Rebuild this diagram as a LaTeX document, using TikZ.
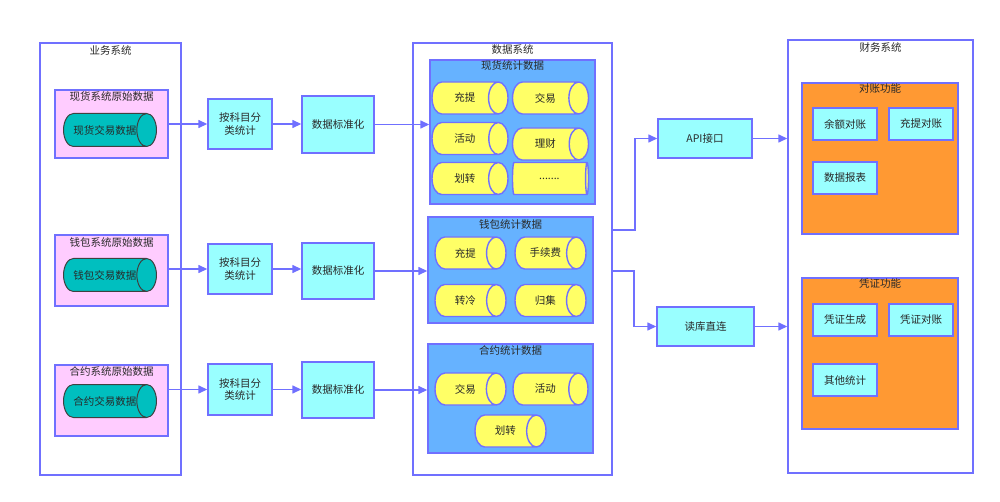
\documentclass[tikz,border=0pt]{standalone}
\usepackage{fontspec}
\setmainfont{Noto Sans CJK SC}
\usetikzlibrary{shapes.geometric,arrows.meta}
\definecolor{lineblue}{RGB}{112,112,255}
\definecolor{pinkfill}{RGB}{255,204,255}
\definecolor{cyanfill}{RGB}{153,255,255}
\definecolor{tealfill}{RGB}{0,191,191}
\definecolor{yellowfill}{RGB}{255,255,102}
\definecolor{groupfill}{RGB}{102,178,255}
\definecolor{orangefill}{RGB}{255,153,51}
\definecolor{txt}{RGB}{40,40,40}
\tikzset{
  sysbox/.style={draw=lineblue,line width=1.4pt,minimum width=#1},
  pinkbox/.style={draw=lineblue,line width=1.4pt,fill=pinkfill,minimum width=113pt},
  cyanbox/.style={draw=lineblue,line width=1.4pt,fill=cyanfill,align=center,text=txt},
  groupbox/.style={draw=lineblue,line width=1.4pt,fill=groupfill,minimum width=165pt},
  funcbox/.style={draw=lineblue,line width=1.4pt,fill=orangefill,minimum width=156pt,minimum height=151pt},
  rawdb/.style={cylinder,anchor=shape center,draw=black!75,line width=1pt,fill=tealfill,aspect=2,
    minimum height=86pt,minimum width=33pt,inner sep=0pt,text=txt},
  statdb/.style={cylinder,anchor=shape center,draw=lineblue,line width=1.4pt,fill=yellowfill,aspect=2,
    minimum height=#1,minimum width=32pt,inner sep=0pt,text=txt},
  statdb/.default=76pt,
  title/.style={text=txt,inner sep=0pt},
  link/.style={draw=lineblue,line width=1.4pt,-{Triangle[length=9pt,width=8pt]}}
}
\begin{document}
\begin{tikzpicture}[x=1pt,y=-1pt,font=\fontsize{10.5}{12.5}\selectfont]
    \useasboundingbox (0,0) rectangle (1000,502);
    \node[sysbox=141pt,minimum height=432pt] (ywxt) at (110.5,259) {};
    \node[sysbox=199pt,minimum height=432pt] (sjxt) at (512.5,259) {};
    \node[sysbox=185pt,minimum height=433pt] (cwxt) at (880.5,256.5) {};
    \node[title] (ywxt-t) at (110.5,50) {业务系统};
    \node[title] (sjxt-t) at (512.5,50) {数据系统};
    \node[title] (cwxt-t) at (880.5,47) {财务系统};

    \node[pinkbox,minimum height=68pt] (xh) at (111.5,124) {};
    \node[pinkbox,minimum height=71pt] (qb) at (111.5,270.5) {};
    \node[pinkbox,minimum height=71pt] (hy) at (111.5,400.5) {};
    \node[title] (xh-t) at (111.5,97) {现货系统原始数据};
    \node[title] (qb-t) at (111.5,242) {钱包系统原始数据};
    \node[title] (hy-t) at (111.5,372) {合约系统原始数据};
    \node[rawdb] (xhdb) at (110,130) {现货交易数据};
    \node[rawdb] (qbdb) at (110,275) {钱包交易数据};
    \node[rawdb] (hydb) at (110,401) {合约交易数据};

    \node[cyanbox,minimum width=64pt,minimum height=50pt] (fl1) at (240,124) {按科目分\\类统计};
    \node[cyanbox,minimum width=64pt,minimum height=50pt] (fl2) at (240,269) {按科目分\\类统计};
    \node[cyanbox,minimum width=64pt,minimum height=51pt] (fl3) at (240,389.5) {按科目分\\类统计};
    \node[cyanbox,minimum width=72pt,minimum height=57pt] (bz1) at (338,124.5) {数据标准化};
    \node[cyanbox,minimum width=72pt,minimum height=56pt] (bz2) at (338,271) {数据标准化};
    \node[cyanbox,minimum width=72pt,minimum height=56pt] (bz3) at (338,390) {数据标准化};

    \node[groupbox,minimum height=144pt] (g1) at (512.5,132) {};
    \node[groupbox,minimum height=106pt] (g2) at (510.5,270) {};
    \node[groupbox,minimum height=109pt] (g3) at (510.5,398.5) {};
    \node[title] (g1-t) at (512.5,66) {现货统计数据};
    \node[title] (g2-t) at (510.5,225) {钱包统计数据};
    \node[title] (g3-t) at (510.5,351) {合约统计数据};
    \node[statdb] (g1a) at (470,98) {充提};
    \node[statdb] (g1b) at (550.5,98) {交易};
    \node[statdb] (g1c) at (470,138.5) {活动};
    \node[statdb] (g1d) at (550.5,144) {理财};
    \node[statdb] (g1e) at (470,178.5) {划转};
    \node[statdb] (g1f) at (550.5,178.5) {.......};
    \node[statdb=71pt] (g2a) at (470.5,253) {充提};
    \node[statdb=71pt] (g2b) at (550.5,253) {手续费};
    \node[statdb=71pt] (g2c) at (470.5,300.5) {转冷};
    \node[statdb=71pt] (g2d) at (550.5,300.5) {归集};
    \node[statdb=71pt] (g3a) at (470.5,389) {交易};
    \node[statdb=75pt] (g3b) at (550.5,389) {活动};
    \node[statdb=71pt] (g3c) at (510.5,431) {划转};

    \node[cyanbox,minimum width=94pt,minimum height=39pt] (api) at (705,138.5) {API接口};
    \node[cyanbox,minimum width=97pt,minimum height=39pt] (dk) at (705.5,326.5) {读库直连};

    \node[funcbox] (dz) at (880,158.5) {};
    \node[funcbox] (pz) at (880,353.5) {};
    \node[title] (dz-t) at (880,89) {对账功能};
    \node[title] (pz-t) at (880,284) {凭证功能};
    \node[cyanbox,minimum width=64pt,minimum height=32pt] (yedz) at (845,124) {余额对账};
    \node[cyanbox,minimum width=64pt,minimum height=32pt] (ctdz) at (921,124) {充提对账};
    \node[cyanbox,minimum width=64pt,minimum height=32pt] (sjbb) at (845,178) {数据报表};
    \node[cyanbox,minimum width=64pt,minimum height=32pt] (pzsc) at (845,320) {凭证生成};
    \node[cyanbox,minimum width=64pt,minimum height=32pt] (pzdz) at (921,320) {凭证对账};
    \node[cyanbox,minimum width=64pt,minimum height=32pt] (qtjt) at (845,380) {其他统计};

    \draw[link] (xh.east) -- (fl1.west);
    \draw[link] (fl2.west -| qb.east) -- (fl2.west);
    \draw[link] (fl3.west -| hy.east) -- (fl3.west);
    \draw[link] (fl1.east) -- (fl1.east -| bz1.west);
    \draw[link] (fl2.east) -- (fl2.east -| bz2.west);
    \draw[link] (fl3.east) -- (fl3.east -| bz3.west);
    \draw[link] (bz1.east) -- (bz1.east -| g1.west);
    \draw[link] (bz2.east) -- (bz2.east -| g2.west);
    \draw[link] (bz3.east) -- (bz3.east -| g3.west);

    \coordinate (out1) at (612,230);
    \coordinate (out2) at (612,271);
    \draw[link] (out1) -- ++(23,0) |- (api.west);
    \draw[link] (out2) -- ++(22,0) |- (dk.west);
    \draw[link] (api.east) -- (api.east -| cwxt.west);
    \draw[link] (dk.east) -- (dk.east -| cwxt.west);
\end{tikzpicture}
\end{document}
